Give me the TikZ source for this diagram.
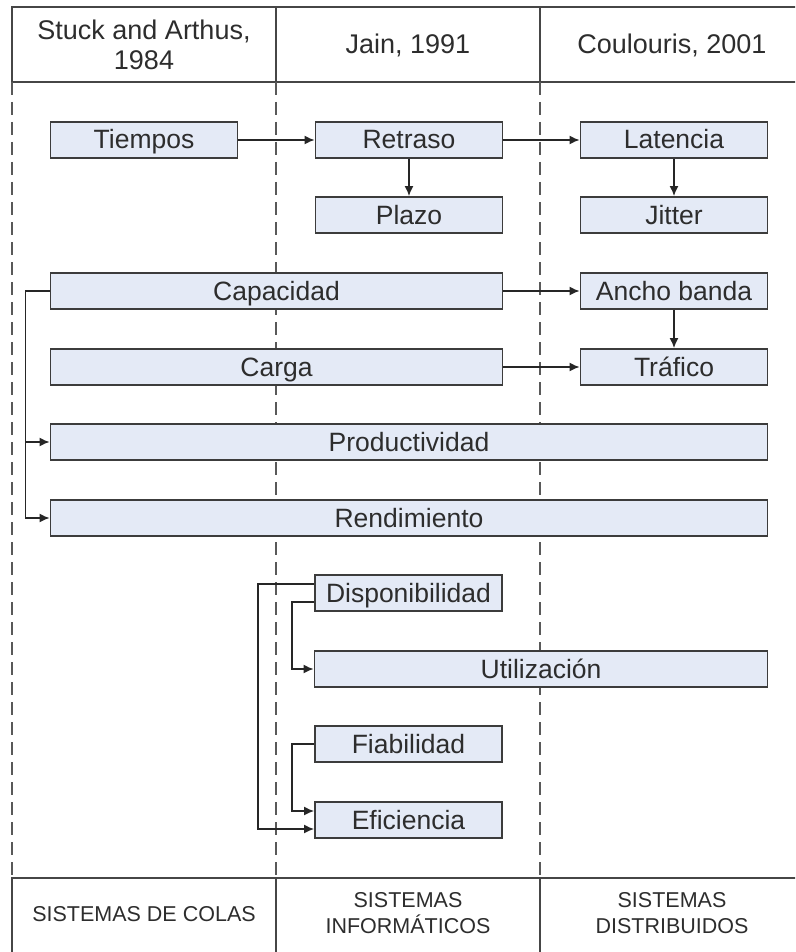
\documentclass[tikz,border=0pt]{standalone}
\usepackage{fontspec}
\setmainfont{Liberation Sans}
\usetikzlibrary{arrows.meta,calc}
\definecolor{boxfill}{RGB}{228,234,246}
\definecolor{boxline}{RGB}{60,60,60}
\definecolor{txt}{RGB}{45,45,45}
\definecolor{frame}{RGB}{70,70,70}
\begin{document}
\begin{tikzpicture}[x=1pt,y=-1pt,
  bx/.style={draw=boxline,line width=1.8pt,fill=boxfill,rectangle,inner sep=1pt,
    minimum height=36pt,text height=19pt,text depth=1pt,text=txt,font=\fontsize{26.5}{30}\selectfont},
  wA/.style={minimum width=187pt},
  wAB/.style={minimum width=452pt},
  wABC/.style={minimum width=717pt},
  wBC/.style={minimum width=453pt},
  conn/.style={draw=black!85,line width=1.6pt,-{Latex[length=10pt,width=9pt]}},
  frameline/.style={draw=frame,line width=1.8pt},
  dashline/.style={draw=frame!90,line width=1.6pt,dash pattern=on 13pt off 7pt},
  hdr/.style={align=center,text=txt,font=\fontsize{27}{30}\selectfont},
  ftr/.style={align=center,text=txt,font=\fontsize{21.5}{26}\selectfont}]
\useasboundingbox (0,0) rectangle (795,952);
\clip (0,0) rectangle (795,952);
% frame
\draw[frameline] (12,7) rectangle (808,82);
\draw[frameline] (276,7) -- (276,82);
\draw[frameline] (540,7) -- (540,82);
\draw[frameline] (12,878) rectangle (808,965);
\draw[frameline] (276,878) -- (276,965);
\draw[frameline] (540,878) -- (540,965);
\draw[dashline] (12,82) -- (12,878);
\draw[dashline] (276,82) -- (276,878);
\draw[dashline] (540,82) -- (540,878);
\draw[dashline] (808,82) -- (808,878);
% header / footer
\node[hdr] (h1) at (144,45) {Stuck and Arthus,\\1984};
\node[hdr] (h2) at (408,45) {Jain, 1991};
\node[hdr] (h3) at (672,45) {Coulouris, 2001};
\node[ftr] (f1) at (144,914) {SISTEMAS DE COLAS};
\node[ftr] (f2) at (408,913) {SISTEMAS\\INFORMÁTICOS};
\node[ftr] (f3) at (672,913) {SISTEMAS\\DISTRIBUIDOS};
% boxes
\node[bx,wA] (tiem) at (144,140) {Tiempos};
\node[bx,wA] (retr) at (409,140) {Retraso};
\node[bx,wA] (late) at (674,140) {Latencia};
\node[bx,wA] (plaz) at (409,215) {Plazo};
\node[bx,wA] (jitt) at (674,215) {Jitter};
\node[bx,wAB] (capa) at (276.5,291) {Capacidad};
\node[bx,wA] (anch) at (674,291) {Ancho banda};
\node[bx,wAB] (carg) at (276.5,367) {Carga};
\node[bx,wA] (traf) at (674,367) {Tráfico};
\node[bx,wABC] (prod) at (409,442) {Productividad};
\node[bx,wABC] (rend) at (409,518) {Rendimiento};
\node[bx,wA] (disp) at (408.5,593) {Disponibilidad};
\node[bx,wBC] (util) at (541,669) {Utilización};
\node[bx,wA] (fiab) at (408.5,744) {Fiabilidad};
\node[bx,wA] (efic) at (408.5,820) {Eficiencia};
% connectors
\draw[conn] (tiem) -- (retr);
\draw[conn] (retr) -- (late);
\draw[conn] (retr) -- (plaz);
\draw[conn] (late) -- (jitt);
\draw[conn] (capa.east) -- (anch.west);
\draw[conn] (anch) -- (traf);
\draw[conn] (carg.east) -- (traf.west);
\draw[conn] (capa.west) -- ++(-24,0) |- (prod.west);
\draw[conn] (capa.west) -- ++(-24,0) |- (rend.west);
\draw[conn] ([yshift=9pt]disp.west) -- ++(-56,0) |- ([yshift=-9pt]efic.west);
\draw[conn] ([yshift=-9pt]disp.west) -- ++(-22,0) |- (util.west);
\draw[conn] (fiab.west) -- ++(-22,0) |- ([yshift=9pt]efic.west);
\end{tikzpicture}
\end{document}
